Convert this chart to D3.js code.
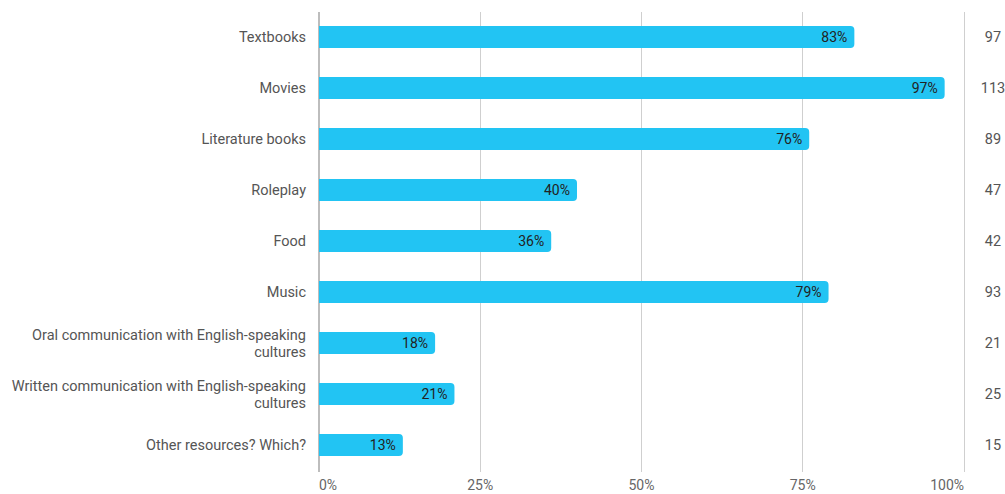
<!DOCTYPE html>
<html>
<head>
<meta charset="utf-8">
<script src="https://cdn.jsdelivr.net/npm/d3@7"></script>
<style>
  html, body { margin: 0; padding: 0; background: #fff; }
  svg { display: block; font-family: Roboto, "Noto Sans", Arial, sans-serif; }
</style>
</head>
<body>
<svg id="chart" width="1005" height="494"></svg>
<script>
// Resource categories (multi-line labels split on "\n")
const categories = [
  "Textbooks",
  "Movies",
  "Literature books",
  "Roleplay",
  "Food",
  "Music",
  "Oral communication with English-speaking\ncultures",
  "Written communication with English-speaking\ncultures",
  "Other resources? Which?"
];
// Share of respondents (%)
const percents = [83, 97, 76, 40, 36, 79, 18, 21, 13];
// Number of respondents
const counts = [97, 113, 89, 47, 42, 93, 21, 25, 15];
// Axis ticks
const tickValues = [0, 25, 50, 75, 100];

const svg = d3.select("#chart");
const plotLeft = 319, plotRight = 964, plotTop = 11.5, plotBottom = 470.5;

const x = d3.scaleLinear().domain([0, 100]).range([plotLeft, plotRight]);
const y = d3.scaleBand().domain(categories).range([plotTop, plotBottom]).paddingInner(0.57).paddingOuter(0.285);

// Vertical gridlines
svg.append("g").selectAll("line").data(tickValues).join("line")
  .attr("x1", d => x(d)).attr("x2", d => x(d))
  .attr("y1", 12).attr("y2", 472)
  .attr("stroke", d => d === 0 ? "#bdbdbd" : "#cfcfcf")
  .attr("stroke-width", d => d === 0 ? 2 : 1)
  .attr("shape-rendering", "crispEdges");

// Tick labels
svg.append("g").selectAll("text").data(tickValues).join("text")
  .attr("x", d => x(d))
  .attr("y", 490)
  .attr("text-anchor", (d, i) => i === 0 ? "start" : (i === tickValues.length - 1 ? "end" : "middle"))
  .attr("font-size", 14)
  .attr("fill", "#666")
  .text(d => d + "%");

// Bars with rounded right end
const r = 4;
const bh = y.bandwidth();
svg.append("g").selectAll("path").data(categories).join("path")
  .attr("fill", "#22c4f3")
  .attr("d", (c, i) => {
    const x0 = x(0), x1 = x(percents[i]), y0 = y(c), y1 = y0 + bh;
    return `M${x0},${y0}H${x1 - r}Q${x1},${y0} ${x1},${y0 + r}V${y1 - r}Q${x1},${y1} ${x1 - r},${y1}H${x0}Z`;
  });

// Value labels inside bars
svg.append("g").selectAll("text").data(categories).join("text")
  .attr("x", (c, i) => x(percents[i]) - 7)
  .attr("y", c => y(c) + bh / 2)
  .attr("dy", "0.35em")
  .attr("text-anchor", "end")
  .attr("font-size", 14)
  .attr("fill", "#222")
  .text((c, i) => percents[i] + "%");

// Category labels
const lab = svg.append("g").selectAll("text").data(categories).join("text")
  .attr("text-anchor", "end")
  .attr("font-size", 14.5)
  .attr("fill", "#555");
lab.each(function (c) {
  const lines = c.split("\n");
  const cy = y(c) + bh / 2;
  const lh = 17;
  const start = cy - (lines.length - 1) * lh / 2;
  d3.select(this).selectAll("tspan").data(lines).join("tspan")
    .attr("x", 306)
    .attr("y", (d, k) => start + k * lh)
    .attr("dy", "0.35em")
    .text(d => d);
});

// Respondent counts column
svg.append("g").selectAll("text").data(categories).join("text")
  .attr("x", 993)
  .attr("y", c => y(c) + bh / 2)
  .attr("dy", "0.35em")
  .attr("text-anchor", "middle")
  .attr("font-size", 14.5)
  .attr("fill", "#555")
  .text((c, i) => counts[i]);
</script>
</body>
</html>
